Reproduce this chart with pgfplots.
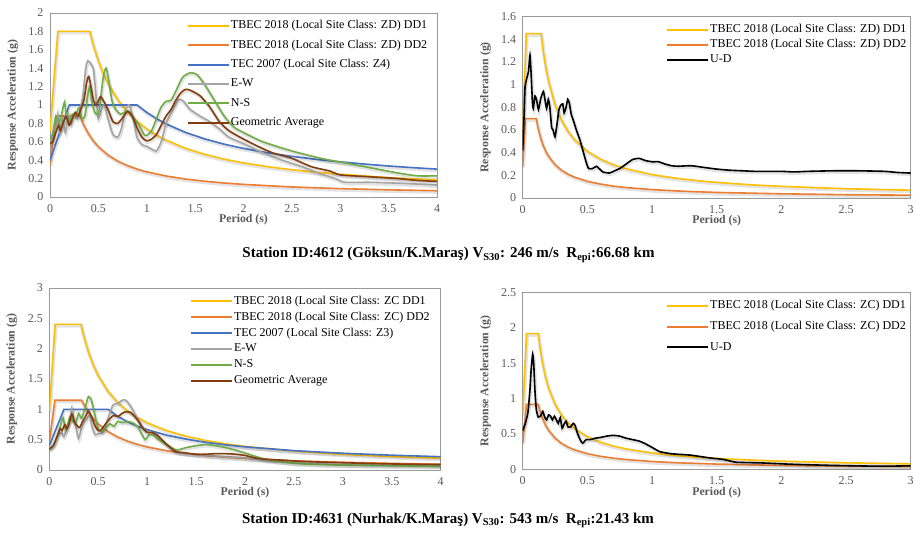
\documentclass[border=0pt]{standalone}
\usepackage{fontspec}
\setmainfont{Liberation Serif}
\usepackage{pgfplots}
\usepackage{pgfplotstable}
\pgfplotsset{compat=1.18}

\definecolor{cDDa}{HTML}{FFC000}
\definecolor{cDDb}{HTML}{ED7D31}
\definecolor{cTEC}{HTML}{4472C4}
\definecolor{cEW}{HTML}{A5A5A5}
\definecolor{cNS}{HTML}{70AD47}
\definecolor{cGEO}{HTML}{843C0C}
\definecolor{txt}{HTML}{595959}

% ---- Station 4612 (horizontal) ----
\pgfplotstableread[row sep=\\]{x y\\ 0 0.72\\ 0.082 1.8\\ 0.411 1.8\\ 0.45 1.644\\ 0.5 1.48\\ 0.55 1.345\\ 0.6 1.233\\ 0.7 1.057\\ 0.8 0.925\\ 0.9 0.822\\ 1.0 0.74\\ 1.1 0.673\\ 1.2 0.617\\ 1.4 0.529\\ 1.6 0.463\\ 1.8 0.411\\ 2.0 0.37\\ 2.25 0.329\\ 2.5 0.296\\ 2.75 0.269\\ 3 0.247\\ 3.25 0.228\\ 3.5 0.211\\ 3.75 0.197\\ 4 0.185\\}\aDDa
\pgfplotstableread[row sep=\\]{x y\\ 0 0.352\\ 0.062 0.88\\ 0.31 0.88\\ 0.35 0.78\\ 0.4 0.683\\ 0.45 0.607\\ 0.5 0.546\\ 0.6 0.455\\ 0.7 0.39\\ 0.8 0.341\\ 0.9 0.303\\ 1.0 0.273\\ 1.2 0.228\\ 1.4 0.195\\ 1.6 0.171\\ 1.8 0.152\\ 2.0 0.137\\ 2.5 0.109\\ 3 0.091\\ 3.5 0.078\\ 4 0.068\\}\aDDb
\pgfplotstableread[row sep=\\]{x y\\ 0 0.4\\ 0.2 1.0\\ 0.9 1.0\\ 1.0 0.919\\ 1.1 0.852\\ 1.2 0.794\\ 1.4 0.702\\ 1.6 0.631\\ 1.8 0.574\\ 2.0 0.528\\ 2.25 0.48\\ 2.5 0.442\\ 2.75 0.409\\ 3 0.382\\ 3.25 0.358\\ 3.5 0.337\\ 3.75 0.319\\ 4 0.303\\}\aTEC
\pgfplotstableread[row sep=\\]{x y\\ 0 0.55\\ 0.03 0.7\\ 0.06 0.75\\ 0.08 0.9\\ 0.1 0.7\\ 0.13 0.85\\ 0.16 0.7\\ 0.19 0.9\\ 0.22 0.8\\ 0.25 0.9\\ 0.28 0.85\\ 0.31 0.95\\ 0.34 1.1\\ 0.37 1.4\\ 0.39 1.48\\ 0.42 1.45\\ 0.45 1.38\\ 0.48 1.05\\ 0.5 0.85\\ 0.53 0.95\\ 0.56 1.0\\ 0.6 0.85\\ 0.65 0.68\\ 0.7 0.65\\ 0.74 0.75\\ 0.78 0.95\\ 0.82 1.0\\ 0.86 0.85\\ 0.9 0.65\\ 0.95 0.57\\ 1.0 0.55\\ 1.05 0.52\\ 1.1 0.5\\ 1.15 0.6\\ 1.2 0.8\\ 1.27 0.95\\ 1.33 1.06\\ 1.38 1.04\\ 1.45 0.95\\ 1.55 0.88\\ 1.65 0.82\\ 1.75 0.74\\ 1.85 0.65\\ 2.0 0.58\\ 2.2 0.48\\ 2.4 0.4\\ 2.6 0.33\\ 2.8 0.25\\ 2.95 0.2\\ 3.05 0.16\\ 3.3 0.16\\ 3.6 0.15\\ 4 0.13\\}\aEW
\pgfplotstableread[row sep=\\]{x y\\ 0 0.62\\ 0.03 0.7\\ 0.06 0.88\\ 0.09 0.8\\ 0.12 0.9\\ 0.15 1.03\\ 0.17 0.88\\ 0.2 0.82\\ 0.23 0.9\\ 0.26 0.88\\ 0.3 0.97\\ 0.33 0.85\\ 0.36 0.88\\ 0.39 1.1\\ 0.41 1.2\\ 0.43 1.05\\ 0.46 0.93\\ 0.48 0.9\\ 0.51 0.95\\ 0.55 1.3\\ 0.58 1.4\\ 0.61 1.25\\ 0.64 1.05\\ 0.68 0.95\\ 0.73 0.9\\ 0.78 0.93\\ 0.82 0.93\\ 0.87 0.85\\ 0.92 0.78\\ 0.97 0.68\\ 1.0 0.67\\ 1.05 0.72\\ 1.1 0.85\\ 1.15 0.98\\ 1.2 1.04\\ 1.25 1.05\\ 1.3 1.15\\ 1.37 1.3\\ 1.45 1.35\\ 1.52 1.33\\ 1.6 1.22\\ 1.7 1.05\\ 1.8 0.88\\ 1.9 0.76\\ 2.0 0.7\\ 2.2 0.6\\ 2.5 0.5\\ 2.8 0.42\\ 3.0 0.38\\ 3.3 0.32\\ 3.6 0.26\\ 3.8 0.23\\ 4 0.23\\}\aNS
\pgfplotstableread[row sep=\\]{x y\\ 0 0.58\\ 0.03 0.6\\ 0.06 0.7\\ 0.09 0.78\\ 0.11 0.72\\ 0.14 0.82\\ 0.17 0.87\\ 0.2 0.78\\ 0.23 0.85\\ 0.26 0.92\\ 0.29 0.88\\ 0.32 0.96\\ 0.35 1.05\\ 0.38 1.25\\ 0.4 1.31\\ 0.42 1.22\\ 0.45 1.05\\ 0.48 1.0\\ 0.52 1.09\\ 0.55 1.05\\ 0.6 0.95\\ 0.65 0.82\\ 0.7 0.8\\ 0.75 0.86\\ 0.8 0.93\\ 0.85 0.88\\ 0.9 0.75\\ 0.95 0.65\\ 1.0 0.61\\ 1.05 0.63\\ 1.1 0.68\\ 1.15 0.78\\ 1.2 0.88\\ 1.25 0.95\\ 1.3 1.05\\ 1.35 1.13\\ 1.4 1.17\\ 1.45 1.16\\ 1.55 1.1\\ 1.65 0.98\\ 1.75 0.82\\ 1.85 0.72\\ 2.0 0.63\\ 2.15 0.55\\ 2.3 0.48\\ 2.5 0.42\\ 2.7 0.33\\ 2.9 0.28\\ 3.0 0.24\\ 3.3 0.22\\ 3.6 0.2\\ 3.8 0.18\\ 4 0.17\\}\aGEO

% ---- Station 4612 (vertical) ----
\pgfplotstableread[row sep=\\]{x y\\ 0 0.58\\ 0.028 1.45\\ 0.142 1.45\\ 0.16 1.288\\ 0.18 1.144\\ 0.2 1.03\\ 0.25 0.824\\ 0.3 0.687\\ 0.35 0.589\\ 0.4 0.515\\ 0.5 0.412\\ 0.6 0.343\\ 0.7 0.294\\ 0.8 0.258\\ 1.0 0.206\\ 1.2 0.172\\ 1.4 0.147\\ 1.6 0.129\\ 1.8 0.114\\ 2.0 0.103\\ 2.25 0.092\\ 2.5 0.082\\ 2.75 0.075\\ 3 0.069\\}\bDDa
\pgfplotstableread[row sep=\\]{x y\\ 0 0.28\\ 0.02 0.7\\ 0.105 0.7\\ 0.12 0.613\\ 0.14 0.525\\ 0.16 0.459\\ 0.18 0.408\\ 0.2 0.368\\ 0.25 0.294\\ 0.3 0.245\\ 0.35 0.21\\ 0.4 0.184\\ 0.5 0.147\\ 0.6 0.123\\ 0.7 0.105\\ 0.8 0.092\\ 1.0 0.074\\ 1.25 0.059\\ 1.5 0.049\\ 2 0.037\\ 2.5 0.029\\ 3 0.025\\}\bDDb
\pgfplotstableread[row sep=\\]{x y\\ 0 0.42\\ 0.01 0.7\\ 0.018 0.98\\ 0.03 1.05\\ 0.045 1.12\\ 0.056 1.26\\ 0.065 1.1\\ 0.075 0.85\\ 0.082 0.79\\ 0.095 0.9\\ 0.108 0.86\\ 0.122 0.78\\ 0.14 0.88\\ 0.16 0.94\\ 0.175 0.85\\ 0.185 0.79\\ 0.198 0.87\\ 0.21 0.8\\ 0.224 0.62\\ 0.235 0.6\\ 0.25 0.54\\ 0.265 0.65\\ 0.28 0.78\\ 0.295 0.82\\ 0.31 0.83\\ 0.32 0.75\\ 0.335 0.8\\ 0.348 0.87\\ 0.36 0.84\\ 0.375 0.74\\ 0.39 0.69\\ 0.415 0.6\\ 0.443 0.51\\ 0.47 0.4\\ 0.495 0.3\\ 0.51 0.26\\ 0.54 0.26\\ 0.57 0.28\\ 0.6 0.25\\ 0.62 0.23\\ 0.67 0.22\\ 0.71 0.24\\ 0.75 0.26\\ 0.8 0.3\\ 0.85 0.34\\ 0.9 0.35\\ 0.95 0.33\\ 1.0 0.32\\ 1.05 0.32\\ 1.1 0.3\\ 1.15 0.285\\ 1.2 0.28\\ 1.3 0.285\\ 1.4 0.27\\ 1.5 0.255\\ 1.6 0.245\\ 1.7 0.24\\ 1.8 0.235\\ 2.0 0.235\\ 2.1 0.23\\ 2.2 0.235\\ 2.4 0.24\\ 2.6 0.24\\ 2.8 0.235\\ 2.9 0.225\\ 3.0 0.22\\}\bUD

% ---- Station 4631 (horizontal) ----
\pgfplotstableread[row sep=\\]{x y\\ 0 0.96\\ 0.06 2.4\\ 0.324 2.4\\ 0.35 2.223\\ 0.4 1.945\\ 0.45 1.729\\ 0.5 1.556\\ 0.6 1.297\\ 0.7 1.111\\ 0.8 0.973\\ 0.9 0.864\\ 1.0 0.778\\ 1.2 0.648\\ 1.4 0.556\\ 1.6 0.486\\ 1.8 0.432\\ 2.0 0.389\\ 2.5 0.311\\ 3 0.259\\ 3.5 0.222\\ 4 0.195\\}\cDDa
\pgfplotstableread[row sep=\\]{x y\\ 0 0.46\\ 0.058 1.15\\ 0.33 1.15\\ 0.35 1.086\\ 0.4 0.95\\ 0.45 0.844\\ 0.5 0.76\\ 0.6 0.633\\ 0.7 0.543\\ 0.8 0.475\\ 0.9 0.422\\ 1.0 0.38\\ 1.2 0.317\\ 1.4 0.271\\ 1.6 0.238\\ 1.8 0.211\\ 2.0 0.19\\ 2.5 0.152\\ 3 0.127\\ 3.5 0.109\\ 4 0.095\\}\cDDb
\pgfplotstableread[row sep=\\]{x y\\ 0 0.4\\ 0.15 1.0\\ 0.6 1.0\\ 0.7 0.884\\ 0.8 0.794\\ 0.9 0.723\\ 1.0 0.665\\ 1.2 0.574\\ 1.4 0.508\\ 1.6 0.456\\ 1.8 0.415\\ 2.0 0.382\\ 2.5 0.319\\ 3 0.276\\ 3.5 0.244\\ 4 0.219\\}\cTEC
\pgfplotstableread[row sep=\\]{x y\\ 0 0.35\\ 0.04 0.4\\ 0.08 0.55\\ 0.12 0.62\\ 0.15 0.55\\ 0.18 0.7\\ 0.21 0.8\\ 0.23 1.02\\ 0.25 0.85\\ 0.28 0.65\\ 0.3 0.52\\ 0.33 0.7\\ 0.36 0.8\\ 0.38 0.83\\ 0.41 0.9\\ 0.44 0.7\\ 0.47 0.58\\ 0.5 0.6\\ 0.55 0.62\\ 0.6 0.85\\ 0.65 1.07\\ 0.7 1.1\\ 0.76 1.16\\ 0.8 1.12\\ 0.85 1.0\\ 0.9 0.85\\ 0.95 0.72\\ 1.0 0.62\\ 1.05 0.62\\ 1.1 0.55\\ 1.2 0.42\\ 1.3 0.3\\ 1.4 0.27\\ 1.6 0.24\\ 1.8 0.22\\ 2.0 0.2\\ 2.2 0.16\\ 2.5 0.12\\ 3.0 0.09\\ 3.5 0.08\\ 4 0.07\\}\cEW
\pgfplotstableread[row sep=\\]{x y\\ 0 0.33\\ 0.04 0.4\\ 0.08 0.55\\ 0.11 0.7\\ 0.14 0.86\\ 0.17 0.65\\ 0.21 0.88\\ 0.24 0.8\\ 0.27 0.78\\ 0.3 0.93\\ 0.33 0.85\\ 0.37 1.05\\ 0.4 1.21\\ 0.43 1.15\\ 0.46 0.95\\ 0.5 0.68\\ 0.54 0.63\\ 0.58 0.7\\ 0.62 0.76\\ 0.66 0.72\\ 0.7 0.8\\ 0.75 0.78\\ 0.8 0.8\\ 0.85 0.78\\ 0.9 0.72\\ 0.95 0.58\\ 0.98 0.5\\ 1.02 0.58\\ 1.06 0.58\\ 1.1 0.52\\ 1.2 0.42\\ 1.3 0.33\\ 1.4 0.37\\ 1.5 0.4\\ 1.6 0.42\\ 1.7 0.4\\ 1.8 0.37\\ 1.9 0.33\\ 2.0 0.28\\ 2.2 0.18\\ 2.4 0.13\\ 2.6 0.1\\ 3.0 0.08\\ 3.5 0.07\\ 4 0.06\\}\cNS
\pgfplotstableread[row sep=\\]{x y\\ 0 0.35\\ 0.04 0.4\\ 0.08 0.55\\ 0.11 0.68\\ 0.13 0.65\\ 0.16 0.75\\ 0.18 0.68\\ 0.2 0.75\\ 0.23 0.92\\ 0.26 0.78\\ 0.29 0.72\\ 0.31 0.7\\ 0.34 0.8\\ 0.37 0.88\\ 0.4 0.97\\ 0.43 0.88\\ 0.47 0.72\\ 0.5 0.65\\ 0.53 0.66\\ 0.57 0.75\\ 0.62 0.85\\ 0.66 0.9\\ 0.7 0.88\\ 0.74 0.93\\ 0.78 0.96\\ 0.83 0.95\\ 0.9 0.83\\ 0.95 0.7\\ 1.0 0.62\\ 1.05 0.62\\ 1.1 0.58\\ 1.15 0.5\\ 1.2 0.42\\ 1.25 0.35\\ 1.3 0.3\\ 1.4 0.28\\ 1.5 0.26\\ 1.6 0.26\\ 1.7 0.27\\ 1.8 0.27\\ 1.9 0.26\\ 2.0 0.24\\ 2.1 0.2\\ 2.2 0.18\\ 2.4 0.16\\ 2.6 0.14\\ 3.0 0.12\\ 3.5 0.1\\ 4 0.09\\}\cGEO

% ---- Station 4631 (vertical) ----
\pgfplotstableread[row sep=\\]{x y\\ 0 0.77\\ 0.03 1.92\\ 0.12 1.92\\ 0.13 1.772\\ 0.15 1.536\\ 0.175 1.317\\ 0.2 1.152\\ 0.25 0.922\\ 0.3 0.768\\ 0.35 0.658\\ 0.4 0.576\\ 0.5 0.461\\ 0.6 0.384\\ 0.7 0.329\\ 0.8 0.288\\ 1.0 0.23\\ 1.2 0.192\\ 1.4 0.165\\ 1.6 0.144\\ 1.8 0.128\\ 2.0 0.115\\ 2.5 0.092\\ 3 0.077\\}\dDDa
\pgfplotstableread[row sep=\\]{x y\\ 0 0.37\\ 0.03 0.92\\ 0.12 0.92\\ 0.13 0.849\\ 0.15 0.736\\ 0.175 0.631\\ 0.2 0.552\\ 0.25 0.442\\ 0.3 0.368\\ 0.35 0.315\\ 0.4 0.276\\ 0.5 0.221\\ 0.6 0.184\\ 0.7 0.158\\ 0.8 0.138\\ 1.0 0.11\\ 1.2 0.092\\ 1.5 0.074\\ 2 0.055\\ 2.5 0.044\\ 3 0.037\\}\dDDb
\pgfplotstableread[row sep=\\]{x y\\ 0 0.55\\ 0.02 0.65\\ 0.04 0.8\\ 0.055 1.1\\ 0.065 1.4\\ 0.077 1.63\\ 0.085 1.5\\ 0.095 1.1\\ 0.105 0.85\\ 0.12 0.74\\ 0.14 0.76\\ 0.155 0.82\\ 0.17 0.74\\ 0.185 0.7\\ 0.2 0.77\\ 0.215 0.75\\ 0.23 0.7\\ 0.245 0.75\\ 0.26 0.7\\ 0.275 0.65\\ 0.29 0.73\\ 0.305 0.58\\ 0.32 0.64\\ 0.335 0.68\\ 0.35 0.6\\ 0.37 0.6\\ 0.39 0.65\\ 0.405 0.62\\ 0.425 0.5\\ 0.45 0.4\\ 0.465 0.37\\ 0.49 0.42\\ 0.52 0.42\\ 0.56 0.44\\ 0.6 0.45\\ 0.65 0.47\\ 0.7 0.48\\ 0.75 0.47\\ 0.8 0.44\\ 0.9 0.4\\ 0.95 0.36\\ 1.0 0.31\\ 1.06 0.25\\ 1.15 0.22\\ 1.3 0.2\\ 1.45 0.16\\ 1.55 0.14\\ 1.65 0.1\\ 1.85 0.09\\ 2.1 0.07\\ 2.4 0.055\\ 2.7 0.045\\ 2.85 0.045\\ 3.0 0.05\\}\dUD

\pgfplotsset{
  spec/.style={
    scale only axis, anchor=south west, xmin=0, ymin=0, clip=true,
    axis line style={draw=black!40, line width=0.9pt},
    major tick length=0pt,
    ticklabel style={font=\fontsize{12}{12}\selectfont, text=txt},
    xticklabel style={yshift=-4pt},
    yticklabel style={xshift=-3pt},
    /pgf/number format/assume math mode=true,
    xlabel={Period (s)}, ylabel={Response Acceleration (g)},
    label style={font=\bfseries\fontsize{11.8}{13}\selectfont, text=txt},
    xlabel style={at={(axis description cs:0.5,0)}, anchor=center, yshift=-23pt},
    ylabel style={at={(axis description cs:-0.096,0.5)}, anchor=center},
    legend cell align=left,
    legend style={draw=none, fill=none, anchor=north west,
      font=\fontsize{12}{13}\selectfont,
      nodes={inner sep=1.2pt, text height=8.3pt, text depth=2.6pt}},
    legend image code/.code={\draw[##1] (0pt,0pt) -- (41pt,0pt);},
  },
  shadow/.style={draw=black, draw opacity=0.11, line width=3.6pt,
    xshift=0.6pt, yshift=-1.3pt},
}
% a series: soft grey shadow first, then the coloured line
\newcommand\sline[3][]{%
  \addplot[#2, #1, shadow, forget plot] table {#3};
  \addplot[#2, #1, line width=1.6pt, forget plot] table {#3};}
\newcommand\key[2]{\addlegendimage{#1, line width=2pt}\addlegendentry{#2}}

\begin{document}
\begin{tikzpicture}
\useasboundingbox (0,0) rectangle (915pt,538pt);

\begin{axis}[spec, at={(50pt,341pt)}, width=387pt, height=184pt,
  xmax=4, ymax=2,
  xtick={0,0.5,1,1.5,2,2.5,3,3.5,4},
  ytick={0,0.2,0.4,0.6,0.8,1,1.2,1.4,1.6,1.8,2},
  legend style={at={(0.345,0.977)}, row sep=6pt}]
\key{cDDa}{TBEC 2018 (Local Site Class: ZD) DD1}
\key{cDDb}{TBEC 2018 (Local Site Class: ZD) DD2}
\key{cTEC}{TEC 2007 (Local Site Class: Z4)}
\key{cEW}{E-W}
\key{cNS}{N-S}
\key{cGEO}{Geometric Average}
\sline{cDDa}{\aDDa}
\sline{cDDb}{\aDDb}
\sline{cTEC}{\aTEC}
\sline[smooth, tension=0.4]{cEW}{\aEW}
\sline[smooth, tension=0.4]{cNS}{\aNS}
\sline[smooth, tension=0.4]{cGEO}{\aGEO}
\end{axis}

\begin{axis}[spec, at={(522.7pt,340pt)}, width=388pt, height=181.3pt,
  xmax=3, ymax=1.6,
  xtick={0,0.5,1,1.5,2,2.5,3},
  ytick={0,0.2,0.4,0.6,0.8,1,1.2,1.4,1.6},
  legend style={at={(0.361,0.975)}, row sep=1.5pt}]
\key{cDDa}{TBEC 2018 (Local Site Class: ZD) DD1}
\key{cDDb}{TBEC 2018 (Local Site Class: ZD) DD2}
\key{black}{U-D}
\sline{cDDa}{\bDDa}
\sline{cDDb}{\bDDb}
\sline[smooth, tension=0.3]{black}{\bUD}
\end{axis}

\begin{axis}[spec, at={(49.3pt,68pt)}, width=391.4pt, height=182pt,
  xmax=4, ymax=3,
  xtick={0,0.5,1,1.5,2,2.5,3,3.5,4},
  ytick={0,0.5,1,1.5,2,2.5,3},
  legend style={at={(0.351,0.975)}, row sep=2.6pt}]
\key{cDDa}{TBEC 2018 (Local Site Class: ZC DD1}
\key{cDDb}{TBEC 2018 (Local Site Class: ZC) DD2}
\key{cTEC}{TEC 2007 (Local Site Class: Z3)}
\key{cEW}{E-W}
\key{cNS}{N-S}
\key{cGEO}{Geometric Average}
\sline{cDDa}{\cDDa}
\sline{cDDb}{\cDDb}
\sline{cTEC}{\cTEC}
\sline[smooth, tension=0.4]{cEW}{\cEW}
\sline[smooth, tension=0.4]{cNS}{\cNS}
\sline[smooth, tension=0.4]{cGEO}{\cGEO}
\end{axis}

\begin{axis}[spec, at={(522.7pt,68.7pt)}, width=388pt, height=176.6pt,
  xmax=3, ymax=2.5,
  xtick={0,0.5,1,1.5,2,2.5,3},
  ytick={0,0.5,1,1.5,2,2.5},
  legend style={at={(0.361,0.975)}, row sep=7.3pt}]
\key{cDDa}{TBEC 2018 (Local Site Class: ZC) DD1}
\key{cDDb}{TBEC 2018 (Local Site Class: ZC) DD2}
\key{black}{U-D}
\sline{cDDa}{\dDDa}
\sline{cDDb}{\dDDb}
\sline[smooth, tension=0.3]{black}{\dUD}
\end{axis}

\node[font=\bfseries\fontsize{15}{17}\selectfont] at (448.5pt,283pt)
  {Station ID:4612 (Göksun/K.Maraş) V\textsubscript{S30}: 246 m/s\ \ R\textsubscript{epi}:66.68 km};
\node[font=\bfseries\fontsize{15}{17}\selectfont] at (448pt,17.3pt)
  {Station ID:4631 (Nurhak/K.Maraş) V\textsubscript{S30}: 543 m/s\ \ R\textsubscript{epi}:21.43 km};
\end{tikzpicture}
\end{document}
